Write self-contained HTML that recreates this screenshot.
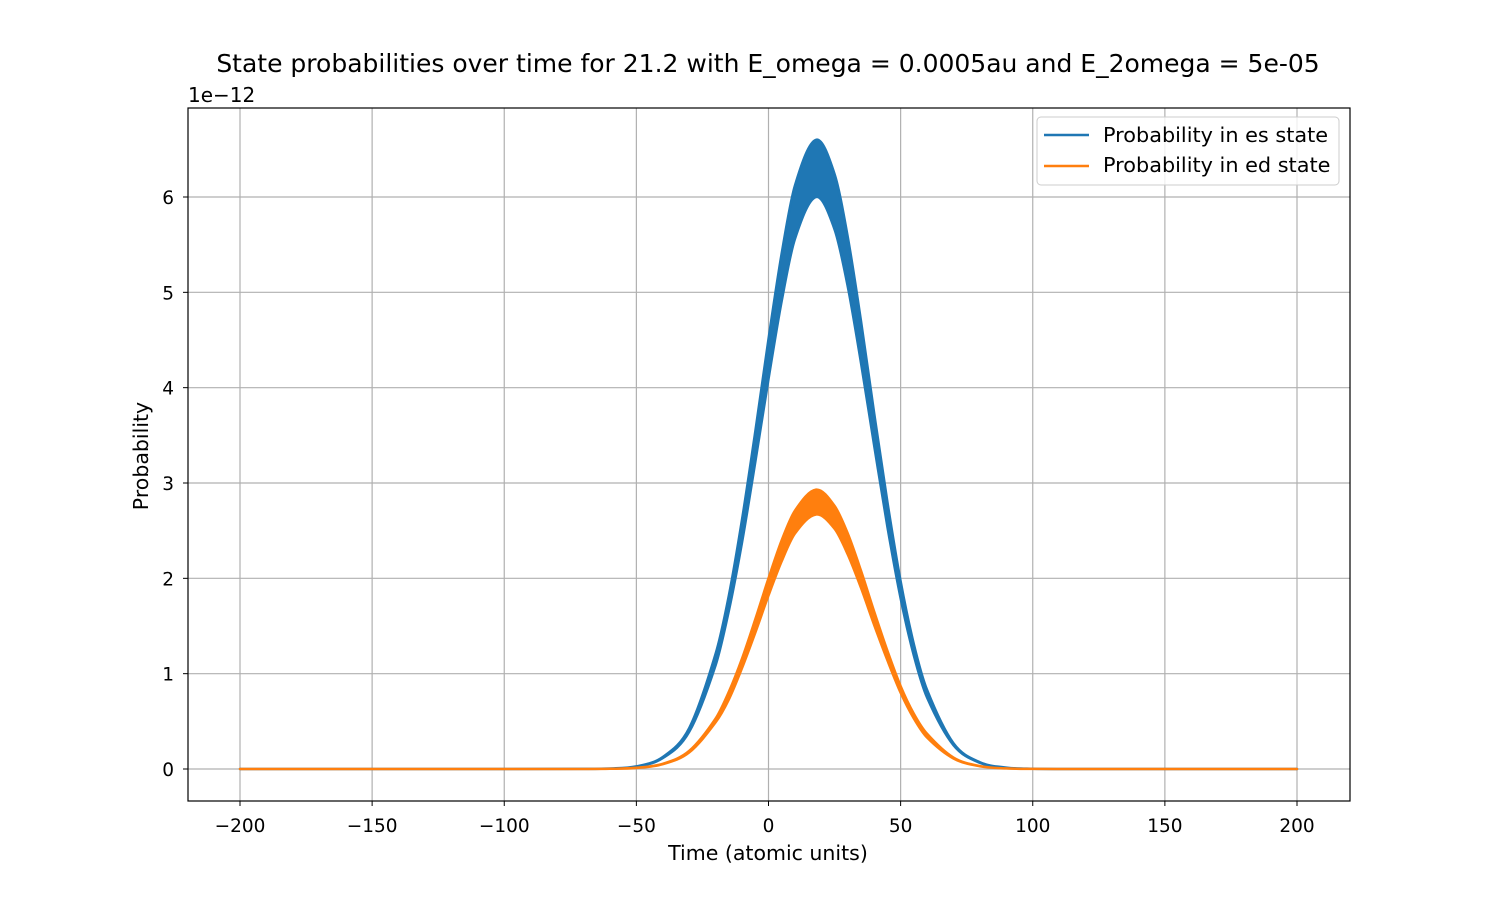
<!DOCTYPE html>
<html><head><meta charset="utf-8"><style>
body{margin:0;background:#fff}
svg{display:block;font-family:"DejaVu Sans","Liberation Sans",sans-serif}
</style></head><body>
<svg id="chart" width="1500" height="900">
<rect width="1500" height="900" fill="#fff"/>
<text x="768" y="72" text-anchor="middle" font-size="25">State probabilities over time for 21.2 with E_omega = 0.0005au and E_2omega = 5e-05</text>
<text x="188" y="102" font-size="20">1e−12</text>
<text x="768" y="860" text-anchor="middle" font-size="20.5">Time (atomic units)</text>
<text transform="translate(148,456) rotate(-90)" text-anchor="middle" font-size="20.5">Probability</text>
<g id="grid"></g><g id="ticks"></g><g id="series"></g>
<rect x="188" y="108" width="1162" height="693" fill="none" stroke="#000" stroke-width="1.2"/>
<g>
<rect x="1037" y="117" width="302" height="68" rx="4" fill="#fff" fill-opacity="0.8" stroke="#ccc"/>
<line x1="1044" y1="135" x2="1089" y2="135" stroke="#1f77b4" stroke-width="2.5"/>
<text x="1103" y="142" font-size="20.8">Probability in es state</text>
<line x1="1044" y1="166" x2="1089" y2="166" stroke="#ff7f0e" stroke-width="2.5"/>
<text x="1103" y="172" font-size="20.8">Probability in ed state</text>
</g>
</svg>
<script>
const times=[-200,-100,-70,-60,-50,-40,-30,-20,-15,-10,-5,0,5,10,18,25,30,35,40,45,50,55,60,70,80,90,100,110,150,200];
const esUpper=[0,0,0.001,0.005,0.028,0.126,0.43,1.21,1.82,2.62,3.54,4.51,5.41,6.12,6.60,6.24,5.58,4.70,3.73,2.80,1.97,1.31,0.83,0.27,0.071,0.015,0.002,0,0,0];
const esLower=[0,0,0.001,0.005,0.026,0.114,0.39,1.09,1.66,2.38,3.22,4.09,4.91,5.56,6.00,5.66,5.06,4.26,3.39,2.54,1.79,1.19,0.75,0.25,0.065,0.013,0.002,0,0,0];
const edUpper=[0,0,0,0.002,0.013,0.055,0.19,0.53,0.81,1.16,1.57,2.00,2.40,2.71,2.93,2.76,2.47,2.08,1.65,1.24,0.87,0.58,0.37,0.12,0.031,0.006,0.001,0,0,0];
const edLower=[0,0,0,0.002,0.011,0.051,0.174,0.49,0.73,1.06,1.43,1.82,2.18,2.47,2.67,2.52,2.25,1.90,1.51,1.14,0.80,0.53,0.33,0.11,0.029,0.006,0.001,0,0,0];
const xTicks=[-200,-150,-100,-50,0,50,100,150,200];
const xTickLabels=["−200","−150","−100","−50","0","50","100","150","200"];
const yTicks=[0,1,2,3,4,5,6];
const NS="http://www.w3.org/2000/svg";
const X=v=>768.5+v*1057/400;
const Y=v=>769-v*572/6;
function mk(tag,attrs,parent){const e=document.createElementNS(NS,tag);for(const k in attrs)e.setAttribute(k,attrs[k]);parent.appendChild(e);return e;}
const grid=document.getElementById('grid'),ticks=document.getElementById('ticks'),series=document.getElementById('series');
xTicks.forEach((t,i)=>{
 const g=mk('line',{x1:X(t),x2:X(t),y1:108,y2:801,stroke:'#b0b0b0','stroke-width':1.2},grid);
 
 
 mk('line',{x1:X(t),x2:X(t),y1:801,y2:806,stroke:'#000'},ticks);
 const l=mk('text',{x:X(t),y:832,'text-anchor':'middle','font-size':18.5},ticks);
 l.textContent=xTickLabels[i];
 
 
});
yTicks.forEach(t=>{
 const g=mk('line',{x1:188,x2:1350,y1:Y(t),y2:Y(t),stroke:'#b0b0b0','stroke-width':1.2},grid);
 
 
 mk('line',{x1:183,x2:188,y1:Y(t),y2:Y(t),stroke:'#000'},ticks);
 const l=mk('text',{x:174,y:Y(t)+7,'text-anchor':'end','font-size':18.5},ticks);
 l.textContent=String(t);
 
 
});
function segs(pts){
 let d='';
 for(let i=0;i<pts.length-1;i++){
  const p0=pts[Math.max(0,i-1)],p1=pts[i],p2=pts[i+1],p3=pts[Math.min(pts.length-1,i+2)];
  // tangent scaled to segment length to avoid overshoot with uneven spacing
  const h=p2[0]-p1[0];
  const m1=(p2[1]-p0[1])/((p2[0]-p0[0])||1), m2=(p3[1]-p1[1])/((p3[0]-p1[0])||1);
  const c1=[p1[0]+h/3,p1[1]+m1*h/3];
  const c2=[p2[0]-h/3,p2[1]-m2*h/3];
  d+=' C'+c1.join(',')+' '+c2.join(',')+' '+p2.join(',');
 }
 return d;
}
function band(up,lo,color,name){
 const pu=times.map((t,i)=>[X(t),Y(up[i])]);
 const pl=times.map((t,i)=>[X(t),Y(lo[i])]).reverse();
 const d='M'+pu[0].join(',')+segs(pu)+' L'+pl[0].join(',')+segs(pl)+' Z';
 const f=mk('path',{d:d,fill:color,stroke:color,'stroke-width':2.5,'stroke-linejoin':'round'},series);
 
 
}
band(esUpper,esLower,'#1f77b4','es-probability');
band(edUpper,edLower,'#ff7f0e','ed-probability');
</script>
</body></html>
